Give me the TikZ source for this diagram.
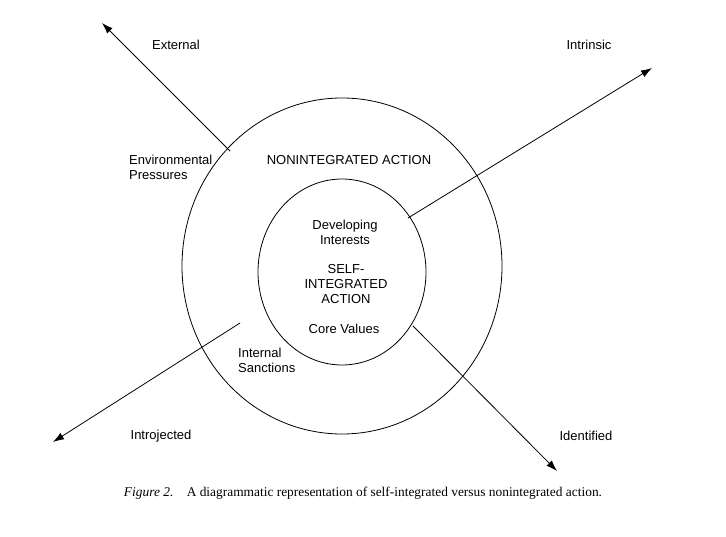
\documentclass[tikz,border=0pt]{standalone}
\usepackage{fontspec}
\setmainfont{Liberation Sans}
\newfontfamily\captionfont{Liberation Serif}
\usetikzlibrary{arrows.meta}
\begin{document}
\begin{tikzpicture}[x=1pt,y=-1pt,line cap=round]
% Configurable parameters
\def\outerrx{160}
\def\outerry{168}
\def\innerrx{84}
\def\innerry{93}

% Styles
\tikzstyle{ring}=[line width=0.8pt]
\tikzstyle{motive}=[line width=0.8pt,-{Latex[length=11pt,width=7.5pt]}]
\tikzstyle{label}=[font=\fontsize{13}{15}\selectfont,inner sep=0pt,align=center]
\tikzstyle{sidelabel}=[label,anchor=west,align=left]

\useasboundingbox (0,0) rectangle (726,537);

% Coordinates and points.
\coordinate (O) at (342,266);	% Centre of the nonintegrated ring.
\coordinate (I) at (342,272);	% Centre of the self-integrated core.
\coordinate (ext0) at (230,151);	% Start of the external arrow.
\coordinate (ext1) at (102,23);	% Tip of the external arrow.
\coordinate (intr0) at (408,218);	% Start of the intrinsic arrow.
\coordinate (intr1) at (652,68);	% Tip of the intrinsic arrow.
\coordinate (intro0) at (240,323);	% Start of the introjected arrow.
\coordinate (intro1) at (53,442);	% Tip of the introjected arrow.
\coordinate (iden0) at (413,326);	% Start of the identified arrow.
\coordinate (iden1) at (557,471);	% Tip of the identified arrow.

% The graphic
\draw[ring] (O) ellipse [x radius=\outerrx, y radius=\outerry];
\draw[ring] (I) ellipse [x radius=\innerrx, y radius=\innerry];

% Draw motive arrows.
\draw[motive] (ext0) -- (ext1);
\draw[motive] (intr0) -- (intr1);
\draw[motive] (intro0) -- (intro1);
\draw[motive] (iden0) -- (iden1);

% Labels.
\node[label] (external) at (176,45) {External};
\node[label] (intrinsic) at (589,45) {Intrinsic};
\node[label] (introjected) at (161,436) {Introjected};
\node[label] (identified) at (586,436) {Identified};
\node[sidelabel] (pressures) at (129,167) {Environmental\\Pressures};
\node[sidelabel] (sanctions) at (238,360.5) {Internal\\Sanctions};
\node[label] (nonint) at (349,160) {NONINTEGRATED ACTION};
\node[label] (interests) at (345,232) {Developing\\Interests};
\node[label] (selfint) at (346,284) {SELF-\\INTEGRATED\\ACTION};
\node[label] (core) at (344,329) {Core Values};

% Caption.
\node[inner sep=0pt,font=\captionfont\fontsize{13.4}{15}\selectfont] (caption) at (363,493)
  {\textit{Figure 2.}\quad A diagrammatic representation of self-integrated versus nonintegrated action.};
\end{tikzpicture}
\end{document}
